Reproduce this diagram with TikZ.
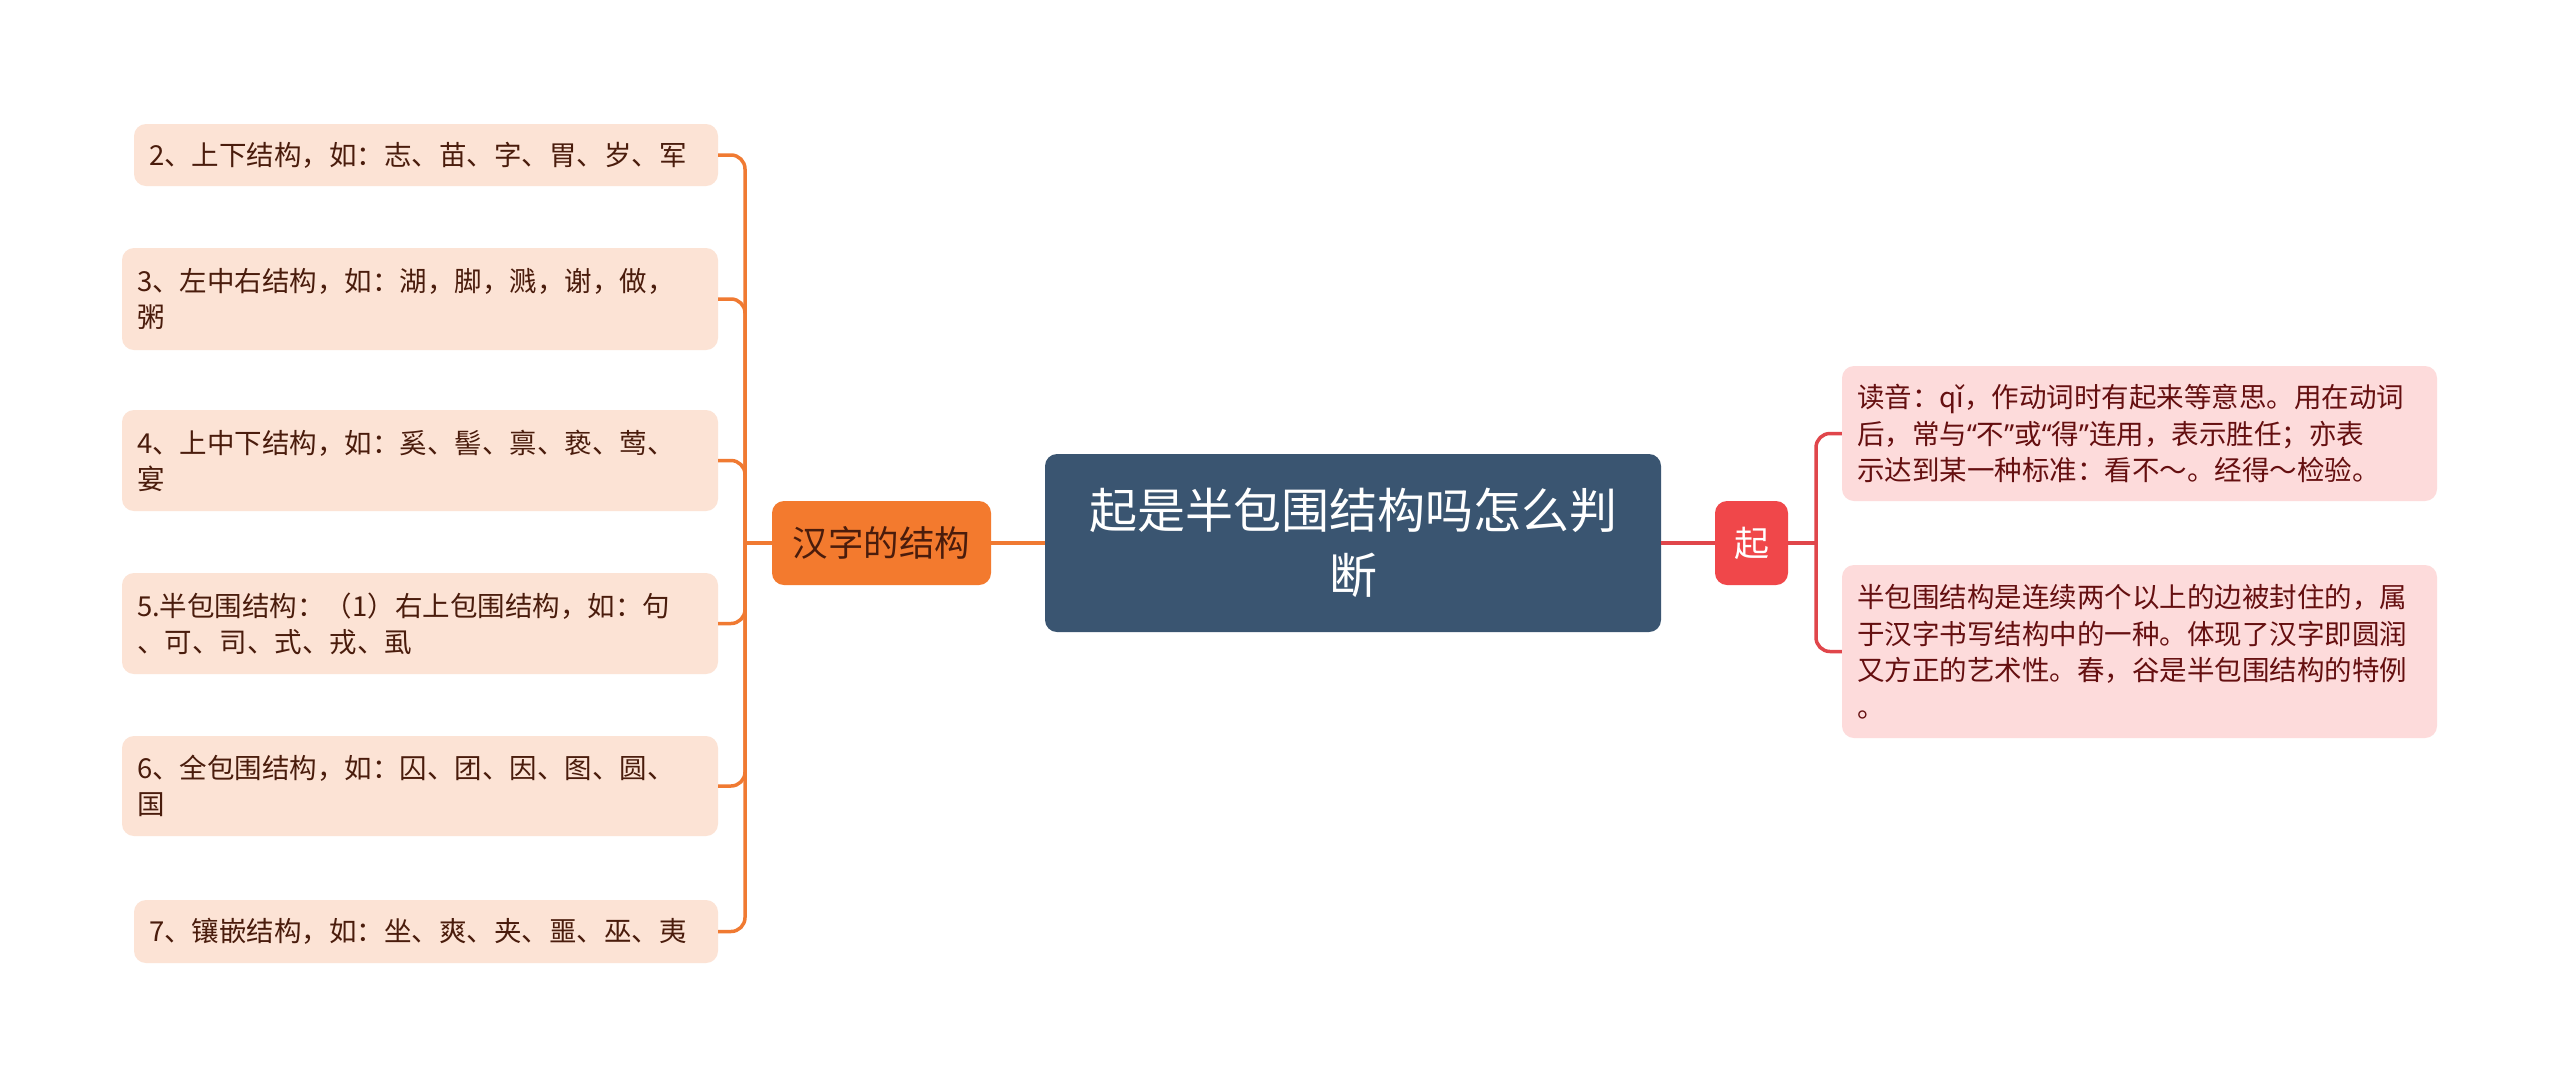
\documentclass[tikz,border=0pt]{standalone}
\usepackage{fontspec}
\setmainfont{Noto Sans CJK SC}
\newfontfamily\latq{Noto Sans}
\newcommand{\myLq}{{\latq “}}
\newcommand{\myRq}{{\latq ”}}
\definecolor{peach}{HTML}{FCE3D5}
\definecolor{brownt}{HTML}{4A1C0C}
\definecolor{orangel}{HTML}{F07A32}
\definecolor{orangen}{HTML}{F37A2E}
\definecolor{mainc}{HTML}{3A5571}
\definecolor{redn}{HTML}{F0474A}
\definecolor{redl}{HTML}{E0464B}
\definecolor{pinkf}{HTML}{FDDBDB}
\definecolor{redt}{HTML}{650F10}
\tikzset{
  lbox/.style={fill=peach, rounded corners=12pt, text=brownt, align=left,
    inner xsep=15pt, inner ysep=0pt, font=\fontsize{27.5}{36}\selectfont},
  rbox/.style={fill=pinkf, rounded corners=12pt, text=redt, align=left,
    inner xsep=15pt, inner ysep=0pt, font=\fontsize{27.5}{36.5}\selectfont},
  oline/.style={draw=orangel, line width=3.5pt, rounded corners=14pt},
  rline/.style={draw=redl, line width=3.5pt, rounded corners=14pt},
}
\begin{document}
\begin{tikzpicture}[x=1pt,y=-1pt]
\useasboundingbox[fill=white] (0,0) rectangle (2560,1085);
% central
\node[fill=mainc, rounded corners=12pt, text=white, align=center, minimum width=616pt, minimum height=178pt, inner sep=0pt, font=\fontsize{48}{65}\selectfont] (main) at (1353,543) {起是半包围结构吗怎么判\\断};
% left branch
\node[fill=orangen, rounded corners=12pt, text=brownt, minimum width=219pt, minimum height=84pt, inner sep=0pt, font=\fontsize{35.5}{40}\selectfont] (hz) at (881.5,543) {汉字的结构};
\node[lbox, text width=554pt, minimum height=62pt] (n2) at (426,155) {2、上下结构，如：志、苗、字、胃、岁、军};
\node[lbox, text width=566pt, minimum height=102pt] (n3) at (420,299) {3、左中右结构，如：湖，脚，溅，谢，做，\\粥};
\node[lbox, text width=566pt, minimum height=101pt] (n4) at (420,460.5) {4、上中下结构，如：奚、髻、禀、亵、莺、\\宴};
\node[lbox, text width=566pt, minimum height=101pt] (n5) at (420,623.5) {5.半包围结构：（1）右上包围结构，如：句\\、可、司、式、戎、虱};
\node[lbox, text width=566pt, minimum height=100pt] (n6) at (420,786) {6、全包围结构，如：囚、团、因、图、圆、\\国};
\node[lbox, text width=554pt, minimum height=63pt] (n7) at (426,931.5) {7、镶嵌结构，如：坐、爽、夹、噩、巫、夷};
% right branch
\node[fill=redn, rounded corners=12pt, text=white, minimum width=73pt, minimum height=84pt, inner sep=0pt, font=\fontsize{35}{40}\selectfont] (qi) at (1751.5,543) {起};
\node[rbox, text width=565pt, minimum height=135pt] (r1) at (2139.5,433.5) {读音：qǐ，作动词时有起来等意思。用在动词\\后，常与\myLq 不\myRq 或\myLq 得\myRq 连用，表示胜任；亦表\\示达到某一种标准：看不～。经得～检验。};
\node[rbox, text width=565pt, minimum height=173pt] (r2) at (2139.5,651.5) {半包围结构是连续两个以上的边被封住的，属\\于汉字书写结构中的一种。体现了汉字即圆润\\又方正的艺术性。春，谷是半包围结构的特例\\。};
% connectors
\coordinate (lb) at (745,543);
\coordinate (rb) at (1816,543);
\draw[oline] (main.west) -- (hz.east);
\draw[oline] (hz.west) -- (lb);
\foreach \c in {n2,n3,n4,n5,n6,n7}{
  \draw[oline] (lb) -- (lb |- \c.east) -- (\c.east);
}
\draw[rline] (main.east) -- (qi.west);
\draw[rline] (qi.east) -- (rb);
\foreach \c in {r1,r2}{
  \draw[rline] (rb) -- (rb |- \c.west) -- (\c.west);
}
\end{tikzpicture}
\end{document}
